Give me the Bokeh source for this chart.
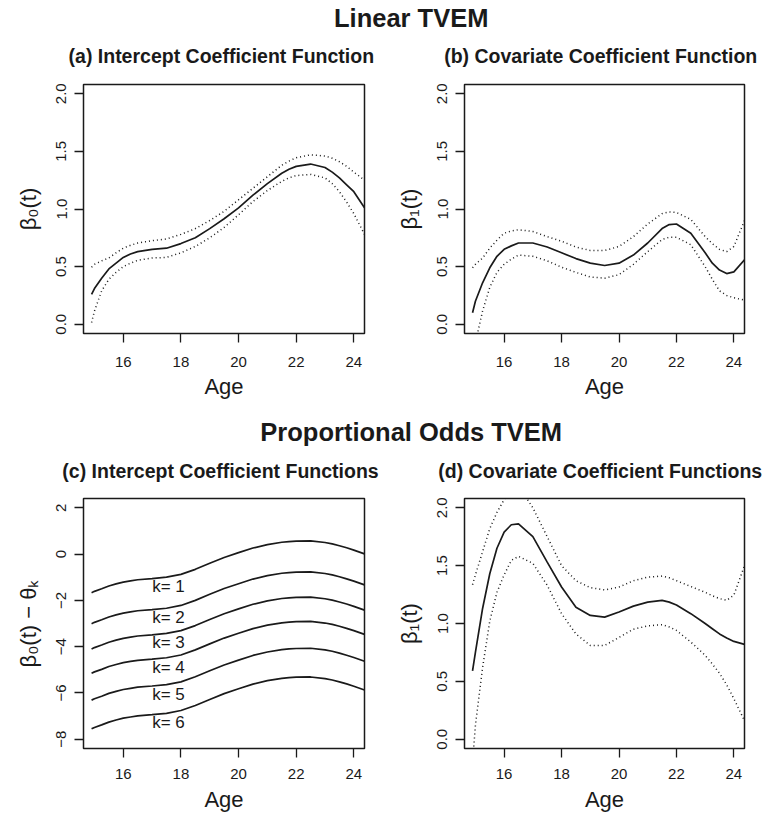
from bokeh.plotting import figure
from bokeh.layouts import column, row
from bokeh.models import Range1d, FixedTicker, NumeralTickFormatter, CustomJSTickFormatter, ColumnDataSource
from bokeh.core.properties import value
from bokeh.embed import file_html
from bokeh.resources import INLINE

FONT = "Liberation Sans"
INK = "#1a1a1a"

# ---------------- data ----------------
AGE = [14.9, 15.0, 15.25, 15.5, 15.75, 16.0, 16.25, 16.5, 17.0, 17.5, 18.0, 18.5, 19.0, 19.5,
       20.0, 20.5, 21.0, 21.5, 21.75, 22.0, 22.5, 23.0, 23.25, 23.5, 23.75, 24.0, 24.37]

# (a) linear TVEM, intercept coefficient function
A_EST = [0.26, 0.31, 0.40, 0.48, 0.53, 0.58, 0.61, 0.63, 0.65, 0.66, 0.70, 0.75, 0.83, 0.915,
         1.01, 1.12, 1.22, 1.31, 1.345, 1.37, 1.39, 1.36, 1.32, 1.27, 1.21, 1.15, 1.01]
A_UP = [0.495, 0.52, 0.55, 0.575, 0.62, 0.66, 0.685, 0.705, 0.725, 0.74, 0.78, 0.83, 0.90, 0.98,
        1.08, 1.18, 1.28, 1.38, 1.415, 1.445, 1.47, 1.46, 1.44, 1.41, 1.37, 1.32, 1.25]
A_LO = [0.015, 0.115, 0.29, 0.39, 0.45, 0.50, 0.53, 0.555, 0.575, 0.58, 0.62, 0.675, 0.75, 0.84,
        0.95, 1.065, 1.16, 1.24, 1.27, 1.29, 1.30, 1.27, 1.22, 1.15, 1.06, 0.96, 0.78]

# (b) linear TVEM, covariate coefficient function
B_EST = [0.10, 0.20, 0.36, 0.49, 0.59, 0.65, 0.68, 0.705, 0.705, 0.67, 0.62, 0.57, 0.53, 0.51,
         0.53, 0.60, 0.705, 0.83, 0.865, 0.87, 0.79, 0.62, 0.53, 0.47, 0.44, 0.455, 0.56]
B_UP = [0.49, 0.52, 0.575, 0.66, 0.73, 0.79, 0.81, 0.82, 0.805, 0.76, 0.72, 0.67, 0.64, 0.64,
        0.675, 0.76, 0.87, 0.96, 0.975, 0.97, 0.91, 0.76, 0.70, 0.65, 0.63, 0.675, 0.90]
B_LO = [-0.30, -0.16, 0.115, 0.32, 0.45, 0.52, 0.565, 0.60, 0.59, 0.55, 0.495, 0.45, 0.41, 0.40,
        0.43, 0.52, 0.63, 0.735, 0.755, 0.755, 0.69, 0.50, 0.39, 0.29, 0.25, 0.23, 0.21]

# (c) proportional odds TVEM: beta0(t) - theta_k, k = 1..6
C_K1 = [-1.67, -1.61, -1.50, -1.38, -1.29, -1.21, -1.16, -1.11, -1.06, -1.00, -0.88, -0.66, -0.40,
        -0.15, 0.06, 0.26, 0.41, 0.51, 0.54, 0.56, 0.57, 0.50, 0.44, 0.36, 0.27, 0.17, 0.01]
THETA_SHIFT = [0.0, 1.34, 2.43, 3.48, 4.64, 5.88]
K_NAMES = ["k= 1", "k= 2", "k= 3", "k= 4", "k= 5", "k= 6"]
K_LABEL_X = 17.57
K_LABEL_Y = [-1.42, -2.72, -3.84, -4.88, -6.06, -7.28]

# (d) proportional odds TVEM, covariate coefficient function
D_EST = [0.59, 0.75, 1.13, 1.43, 1.65, 1.79, 1.853, 1.86, 1.75, 1.53, 1.315, 1.14, 1.07, 1.055,
         1.10, 1.15, 1.185, 1.20, 1.185, 1.16, 1.085, 1.00, 0.955, 0.91, 0.875, 0.845, 0.82]
D_UP = [1.335, 1.42, 1.62, 1.82, 1.96, 2.07, 2.15, 2.19, 2.00, 1.75, 1.50, 1.37, 1.31, 1.29,
        1.315, 1.37, 1.40, 1.41, 1.395, 1.37, 1.32, 1.27, 1.24, 1.215, 1.20, 1.245, 1.50]
D_LO = [-0.20, 0.12, 0.62, 1.02, 1.27, 1.42, 1.545, 1.58, 1.52, 1.33, 1.085, 0.91, 0.81, 0.81,
        0.88, 0.95, 0.98, 0.99, 0.97, 0.94, 0.84, 0.725, 0.65, 0.57, 0.47, 0.35, 0.16]

X_TICKS = [16, 18, 20, 22, 24]
Y_TICKS_LIN = [0.0, 0.5, 1.0, 1.5, 2.0]
Y_TICKS_C = [-8, -6, -4, -2, 0, 2]

X_RANGE = (14.62, 24.37)
YR_LIN = (-0.08, 2.08)
YR_C = (-8.4, 2.4)


def header(width, height, items):
    p = figure(width=width, height=height, x_range=Range1d(0, width), y_range=Range1d(height, 0),
               x_axis_type=None, y_axis_type=None, toolbar_location=None, title=None,
               output_backend="svg", min_border=0)
    p.outline_line_color = None
    p.background_fill_color = "white"
    p.border_fill_color = "white"
    for txt, x, y, size in items:
        p.text(x=[x], y=[y], text=[txt], text_font=value(FONT), text_font_style="bold",
               text_font_size=f"{size}px", text_align="center", text_baseline="middle",
               text_color=INK)
    return p


def panel(width, height, left, right, top, bottom, yr, yticks, ylabel, signed=False,
          xstand=12, xlabstand=5):
    p = figure(width=width, height=height, x_range=Range1d(*X_RANGE), y_range=Range1d(*yr),
               toolbar_location=None, output_backend="svg", title=None,
               min_border_left=left, min_border_right=right,
               min_border_top=top, min_border_bottom=bottom)
    p.grid.visible = False
    p.background_fill_color = "white"
    p.border_fill_color = "white"
    p.outline_line_color = INK
    p.outline_line_width = 1.5
    p.xaxis.ticker = FixedTicker(ticks=X_TICKS)
    p.yaxis.ticker = FixedTicker(ticks=yticks)
    if signed:
        p.yaxis.formatter = CustomJSTickFormatter(
            code="return tick < 0 ? '\u2212' + Math.abs(tick) : String(tick);")
    else:
        p.yaxis.formatter = NumeralTickFormatter(format="0.0")
    p.axis.axis_line_color = None
    p.axis.major_tick_line_color = INK
    p.axis.major_tick_line_width = 1.3
    p.axis.major_tick_out = 9
    p.axis.major_tick_in = 0
    p.axis.minor_tick_line_color = None
    p.axis.major_label_text_font = FONT
    p.axis.major_label_text_font_size = "15px"
    p.axis.major_label_text_color = INK
    p.xaxis.major_label_standoff = xstand
    p.yaxis.major_label_standoff = 8
    p.yaxis.major_label_orientation = "vertical"
    p.axis.axis_label_text_font = FONT
    p.axis.axis_label_text_font_style = "normal"
    p.axis.axis_label_text_font_size = "22px"
    p.axis.axis_label_text_color = INK
    p.xaxis.axis_label = "Age"
    p.yaxis.axis_label = ylabel
    p.xaxis.axis_label_standoff = xlabstand
    p.yaxis.axis_label_standoff = 13
    return p


def add_band(p, est, up, lo):
    src = ColumnDataSource(dict(age=AGE, est=est, up=up, lo=lo))
    p.line("age", "est", source=src, line_width=1.7, line_color=INK)
    p.line("age", "up", source=src, line_width=1.5, line_color=INK, line_dash="1 3")
    p.line("age", "lo", source=src, line_width=1.5, line_color=INK, line_dash="1 3")


# header rows (titles)
h1 = header(766, 72, [("Linear TVEM", 410.7, 17.2, 25.5),
                      ("(a) Intercept Coefficient Function", 220.8, 55.8, 19.5),
                      ("(b) Covariate Coefficient Function", 600.2, 55.8, 19.5)])
h2 = header(766, 80, [("Proportional Odds TVEM", 410.7, 23.3, 25.5),
                      ("(c) Intercept Coefficient Functions", 220.0, 62.5, 19.5),
                      ("(d) Covariate Coefficient Functions", 599.7, 62.5, 19.5)])

pa = panel(383, 336, 83, 19, 12, 75, YR_LIN, Y_TICKS_LIN, "\u03b2\u2080(t)",
           xstand=14, xlabstand=4)
add_band(pa, A_EST, A_UP, A_LO)

pb = panel(383, 336, 81, 22, 12, 75, YR_LIN, Y_TICKS_LIN, "\u03b2\u2081(t)",
           xstand=14, xlabstand=4)
add_band(pb, B_EST, B_UP, B_LO)

pc = panel(383, 327, 83, 19, 10, 67, YR_C, Y_TICKS_C,
           "\u03b2\u2080(t) \u2212 \u03b8\u2096", signed=True, xstand=11)
for shift in THETA_SHIFT:
    pc.line(AGE, [v - shift for v in C_K1], line_width=1.7, line_color=INK)
pc.text(x=[K_LABEL_X] * len(K_NAMES), y=K_LABEL_Y, text=K_NAMES,
        text_font=value(FONT), text_font_size="17px", text_align="center",
        text_baseline="middle", text_color=INK)

pd = panel(383, 327, 81, 22, 10, 67, YR_LIN, Y_TICKS_LIN, "\u03b2\u2081(t)", xstand=11)
add_band(pd, D_EST, D_UP, D_LO)

layout = column(h1, row(pa, pb), h2, row(pc, pd))

open("out.html", "w").write(file_html(layout, INLINE))
